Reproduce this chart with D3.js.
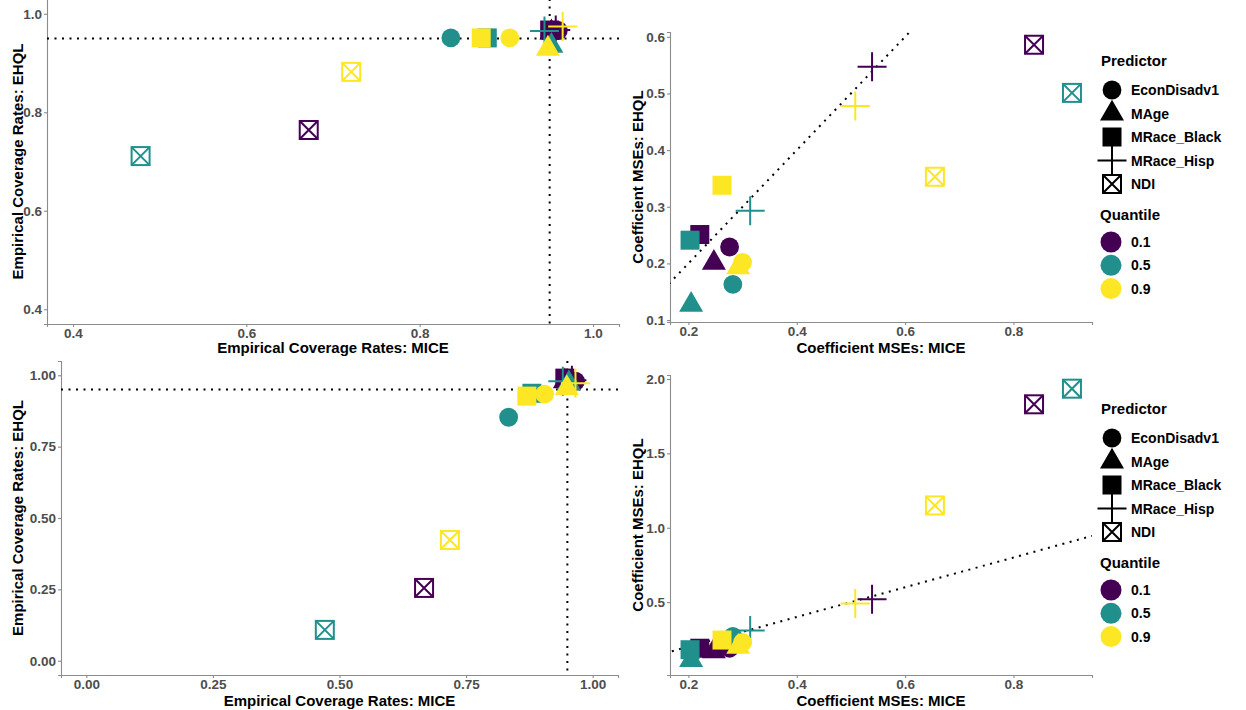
<!DOCTYPE html>
<html><head><meta charset="utf-8">
<script src="https://cdn.jsdelivr.net/npm/d3@7"></script>
<style>
body{margin:0;background:#fff}
svg{display:block}
text{font-family:"Liberation Sans",Arial,sans-serif;font-weight:bold}
</style>
</head><body>
<svg id="chart" width="1246" height="710"></svg>
<script>
// ---------------- DATA ----------------
const predictors = ["EconDisadv1", "MAge", "MRace_Black", "MRace_Hisp", "NDI"];
const quantiles = ["0.1", "0.5", "0.9"];
const quantileColors = ["#440154", "#21908C", "#FDE725"];

// Top-left: empirical coverage rates (rows = quantile, cols = predictor)
const covTopMICE = [
  [0.960, 0.952, 0.950, 0.957, 0.672],
  [0.836, 0.952, 0.878, 0.944, 0.478],
  [0.904, 0.948, 0.871, 0.965, 0.721]
];
const covTopEHQL = [
  [0.966, 0.962, 0.967, 0.967, 0.764],
  [0.951, 0.935, 0.951, 0.965, 0.711],
  [0.951, 0.929, 0.951, 0.974, 0.882]
];
// Bottom-left: empirical coverage rates
const covBotMICE = [
  [0.966, 0.945, 0.945, 0.959, 0.667],
  [0.834, 0.953, 0.880, 0.941, 0.471],
  [0.905, 0.949, 0.870, 0.966, 0.718]
];
const covBotEHQL = [
  [0.979, 0.979, 0.990, 0.983, 0.255],
  [0.853, 0.972, 0.937, 0.979, 0.108],
  [0.934, 0.955, 0.927, 0.972, 0.423]
];
// Top-right: coefficient MSEs
const mseTopMICE = [
  [0.276, 0.247, 0.221, 0.539, 0.838],
  [0.282, 0.205, 0.203, 0.314, 0.908],
  [0.300, 0.292, 0.262, 0.508, 0.655]
];
const mseTopEHQL = [
  [0.229, 0.201, 0.251, 0.547, 0.586],
  [0.163, 0.127, 0.241, 0.293, 0.501],
  [0.202, 0.193, 0.338, 0.478, 0.353]
];
// Bottom-right: coefficient MSEs
const mseBotMICE = [
  [0.276, 0.247, 0.221, 0.539, 0.838],
  [0.282, 0.205, 0.203, 0.314, 0.908],
  [0.300, 0.292, 0.262, 0.508, 0.655]
];
const mseBotEHQL = [
  [0.190, 0.170, 0.190, 0.520, 1.830],
  [0.270, 0.110, 0.180, 0.310, 1.935],
  [0.230, 0.200, 0.245, 0.490, 1.150]
];

const ticksCovTop = [0.4, 0.6, 0.8, 1.0];
const ticksCovBot = [0.00, 0.25, 0.50, 0.75, 1.00];
const ticksMseX = [0.2, 0.4, 0.6, 0.8];
const ticksMseTopY = [0.1, 0.2, 0.3, 0.4, 0.5, 0.6];
const ticksMseBotY = [0.5, 1.0, 1.5, 2.0];
const nominalCoverage = 0.95;

// ---------------- DRAWING ----------------
const svg = d3.select("#chart");
const AXIS = "#8c8c8c", TICKTXT = "#4d4d4d";

function drawShape(g, shapeIdx, color) {
  if (shapeIdx === 0) {
    g.append("circle").attr("r", 9.4).attr("fill", color);
  } else if (shapeIdx === 1) {
    const R = 13.86;
    g.append("path")
      .attr("d", `M0,${-R}L${R*Math.sqrt(3)/2},${R/2}L${-R*Math.sqrt(3)/2},${R/2}Z`)
      .attr("fill", color);
  } else if (shapeIdx === 2) {
    g.append("rect").attr("x", -9.5).attr("y", -9.5).attr("width", 19).attr("height", 19).attr("fill", color);
  } else if (shapeIdx === 3) {
    g.append("path").attr("d", "M-14.5,0H14.5M0,-14.5V14.5")
      .attr("stroke", color).attr("stroke-width", 2).attr("fill", "none");
  } else {
    g.append("rect").attr("x", -9).attr("y", -9).attr("width", 18).attr("height", 18)
      .attr("fill", "none").attr("stroke", color).attr("stroke-width", 2);
    g.append("path").attr("d", "M-9,-9L9,9M9,-9L-9,9")
      .attr("stroke", color).attr("stroke-width", 2).attr("fill", "none");
  }
}

const panels = [
  {xs: covTopMICE, ys: covTopEHQL, xDom: [0.37, 1.03], yDom: [0.37, 1.03], xR: [47, 619], yR: [324, -1],
   xt: ticksCovTop, yt: ticksCovTop, fmt: d3.format(".1f"), ref: "cross",
   xTitle: "Empirical Coverage Rates: MICE", yTitle: "Empirical Coverage Rates: EHQL", xTitleY: 353, yTitleX: 23},
  {xs: mseTopMICE, ys: mseTopEHQL, xDom: [0.166, 0.945], yDom: [0.0966, 0.6085], xR: [670, 1092], yR: [322, 32],
   xt: ticksMseX, yt: ticksMseTopY, fmt: d3.format(".1f"), ref: "identity",
   xTitle: "Coefficient MSEs: MICE", yTitle: "Coefficient MSEs: EHQL", xTitleY: 353, yTitleX: 643},
  {xs: covBotMICE, ys: covBotEHQL, xDom: [-0.05, 1.05], yDom: [-0.05, 1.05], xR: [61, 618], yR: [675, 361],
   xt: ticksCovBot, yt: ticksCovBot, fmt: d3.format(".2f"), ref: "cross",
   xTitle: "Empirical Coverage Rates: MICE", yTitle: "Empirical Coverage Rates: EHQL", xTitleY: 706, yTitleX: 23},
  {xs: mseBotMICE, ys: mseBotEHQL, xDom: [0.166, 0.945], yDom: [0.01, 2.027], xR: [670, 1092], yR: [675, 375],
   xt: ticksMseX, yt: ticksMseBotY, fmt: d3.format(".1f"), ref: "identity",
   xTitle: "Coefficient MSEs: MICE", yTitle: "Coefficient MSEs: EHQL", xTitleY: 706, yTitleX: 643}
];

panels.forEach((p, pi) => {
  const x = d3.scaleLinear().domain(p.xDom).range(p.xR);
  const y = d3.scaleLinear().domain(p.yDom).range(p.yR);
  const g = svg.append("g");
  const clipId = "clip" + pi;
  svg.append("clipPath").attr("id", clipId).append("rect")
    .attr("x", p.xR[0]).attr("y", p.yR[1]).attr("width", p.xR[1] - p.xR[0]).attr("height", p.yR[0] - p.yR[1]);

  // axes
  const xAxis = d3.axisBottom(x).tickValues(p.xt).tickFormat(p.fmt).tickSize(3).tickPadding(1);
  const yAxis = d3.axisLeft(y).tickValues(p.yt).tickFormat(p.fmt).tickSize(3).tickPadding(2);
  const gx = g.append("g").attr("transform", `translate(0,${p.yR[0]})`).call(xAxis);
  const gy = g.append("g").attr("transform", `translate(${p.xR[0]},0)`).call(yAxis);
  [gx, gy].forEach(a => {
    a.select(".domain").attr("stroke", AXIS).attr("stroke-width", 1.1);
    a.selectAll(".tick line").attr("stroke", AXIS).attr("stroke-width", 1.1);
    a.selectAll(".tick text").attr("fill", TICKTXT).style("font-size", "13.5px")
      .style("font-family", '"Liberation Sans",Arial,sans-serif').style("font-weight", "bold");
  });

  // titles
  g.append("text").attr("x", (p.xR[0] + p.xR[1]) / 2).attr("y", p.xTitleY)
    .attr("text-anchor", "middle").style("font-size", "15px").attr("fill", "#000").text(p.xTitle);
  g.append("text").attr("transform", `translate(${p.yTitleX},${(p.yR[0] + p.yR[1]) / 2}) rotate(-90)`)
    .attr("text-anchor", "middle").style("font-size", "15px").attr("fill", "#000").text(p.yTitle);

  // reference lines
  const ref = g.append("g").attr("clip-path", `url(#${clipId})`)
    .attr("stroke", "#000").attr("stroke-width", 2).attr("stroke-dasharray", "2,5.5").attr("fill", "none");
  if (p.ref === "cross") {
    ref.append("line").attr("x1", p.xR[0]).attr("x2", p.xR[1]).attr("y1", y(nominalCoverage)).attr("y2", y(nominalCoverage));
    ref.append("line").attr("x1", x(nominalCoverage)).attr("x2", x(nominalCoverage)).attr("y1", p.yR[1]).attr("y2", p.yR[0]);
  } else {
    const lo = Math.max(p.xDom[0], p.yDom[0]) - 0.05, hi = Math.min(p.xDom[1], p.yDom[1]) + 0.05;
    ref.append("line").attr("x1", x(lo)).attr("y1", y(lo)).attr("x2", x(hi)).attr("y2", y(hi));
  }

  // points (quantile-major drawing order)
  quantiles.forEach((q, qi) => {
    predictors.forEach((pr, si) => {
      const pt = g.append("g").attr("transform", `translate(${x(p.xs[qi][si])},${y(p.ys[qi][si])})`);
      drawShape(pt, si, quantileColors[qi]);
    });
  });
});

// legends
function drawLegend(top) {
  const g = svg.append("g");
  g.append("text").attr("x", 1101).attr("y", top + 5).style("font-size", "15px").attr("fill", "#000").text("Predictor");
  predictors.forEach((pr, i) => {
    const cy = top + 29 + i * 23.5;
    const k = g.append("g").attr("transform", `translate(1112,${cy})`);
    drawShape(k, i, "#000");
    g.append("text").attr("x", 1131).attr("y", cy + 5).style("font-size", "14px").attr("fill", "#000").text(pr);
  });
  g.append("text").attr("x", 1100).attr("y", top + 159).style("font-size", "15px").attr("fill", "#000").text("Quantile");
  quantiles.forEach((q, i) => {
    const cy = top + 181 + i * 23.3;
    g.append("circle").attr("cx", 1111).attr("cy", cy).attr("r", 10.5).attr("fill", quantileColors[i]);
    g.append("text").attr("x", 1131).attr("y", cy + 5).style("font-size", "14px").attr("fill", "#000").text(q);
  });
}
drawLegend(61);
drawLegend(409);
</script>
</body></html>
